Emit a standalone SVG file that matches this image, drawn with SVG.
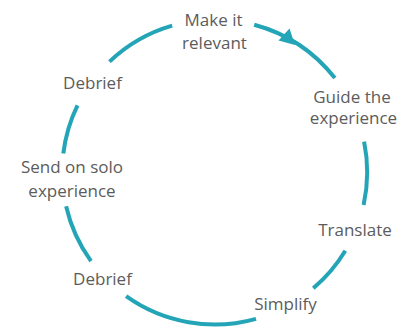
<svg xmlns="http://www.w3.org/2000/svg" width="403" height="328" viewBox="0 0 403 328">
<style>
.arc{fill:none;stroke:#24a5b7;stroke-width:4;stroke-linecap:butt}
.lbl{font-family:"Open Sans","Liberation Sans",sans-serif;font-size:17px;fill:#5c5c5c;text-anchor:middle}
</style>
<rect width="403" height="328" fill="#ffffff"/>
<g id="connectors">
<path class="arc" d="M109.5,61.6 A152.5,152.5 0 0 1 172.2,25.6"/>
<path class="arc" d="M254.2,24.7 A152.5,152.5 0 0 1 334.9,78.1"/>
<polygon points="295,45 289.5,28.5 278.5,40.5" fill="#24a5b7"/>
<path class="arc" d="M364.1,141.6 A152.5,152.5 0 0 1 363.6,205.0"/>
<path class="arc" d="M345.3,250.8 A152.5,152.5 0 0 1 313.3,288.3"/>
<path class="arc" d="M256.0,318.8 A152.5,152.5 0 0 1 126.1,296.2"/>
<path class="arc" d="M91.0,261.2 A152.5,152.5 0 0 1 66.1,206.3"/>
<path class="arc" d="M63.3,153.4 A152.5,152.5 0 0 1 77.5,105.4"/>
</g>
<g id="make-relevant"><text class="lbl" x="213.5" y="26">Make it</text><text class="lbl" x="214.5" y="49">relevant</text></g>
<g id="guide"><text class="lbl" x="352" y="102.5">Guide the</text><text class="lbl" x="353.5" y="124">experience</text></g>
<g id="translate"><text class="lbl" x="355" y="235.5">Translate</text></g>
<g id="simplify"><text class="lbl" x="285.5" y="309.5">Simplify</text></g>
<g id="debrief-lower"><text class="lbl" x="102.5" y="284.5">Debrief</text></g>
<g id="send-solo"><text class="lbl" x="72" y="172.5">Send on solo</text><text class="lbl" x="72" y="197">experience</text></g>
<g id="debrief-upper"><text class="lbl" x="92.5" y="88.5">Debrief</text></g>
</svg>
